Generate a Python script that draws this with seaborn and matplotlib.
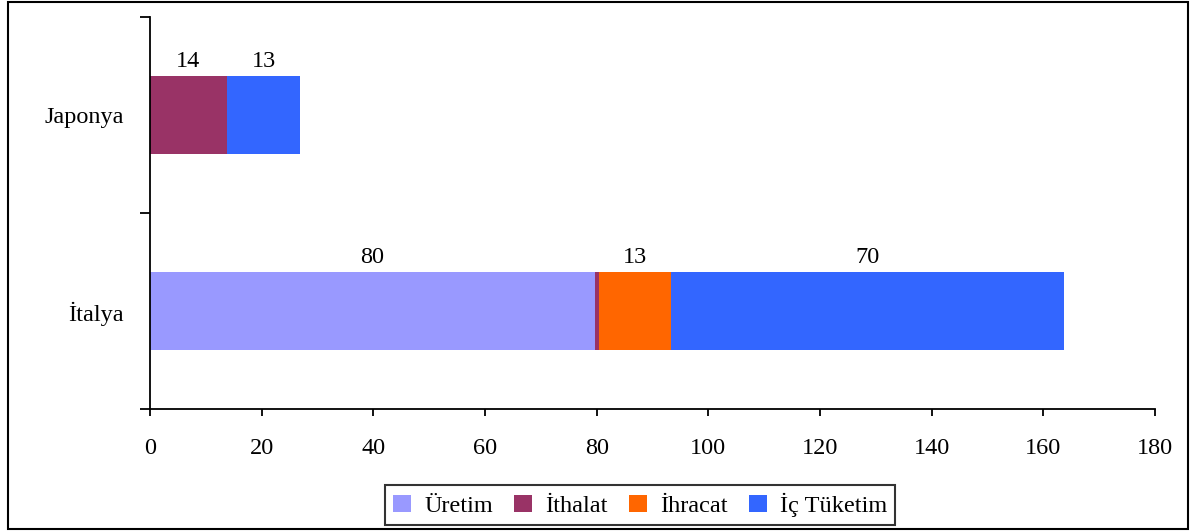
import numpy as np
import pandas as pd
import matplotlib.pyplot as plt
import seaborn as sns
from matplotlib.patches import Rectangle

# Data
countries = ["Japonya", "İtalya"]
series = ["Üretim", "İthalat", "İhracat", "İç Tüketim"]
uretim = [0, 79.7]
ithalat = [13.8, 0.7]
ihracat = [0, 12.9]
ic_tuketim = [13.1, 70.4]
colors = ["#9999FF", "#993366", "#FF6600", "#3366FF"]
x_ticks = list(range(0, 181, 20))

FS = 17.5

sns.set_theme(style="ticks")
plt.rcParams["font.family"] = ["Liberation Serif", "DejaVu Serif"]
plt.rcParams["text.color"] = "black"

df = pd.DataFrame({
    "Ülke": countries,
    "Üretim": uretim,
    "İthalat": ithalat,
    "İhracat": ihracat,
    "İç Tüketim": ic_tuketim,
})
cum = df[series].cumsum(axis=1)

fig, ax = plt.subplots(figsize=(11.9, 5.31), dpi=100)
fig.subplots_adjust(left=0.126, right=0.9706, top=0.968, bottom=0.2298)

# Stacked bars: draw cumulative totals from the widest down
for name, color in reversed(list(zip(series, colors))):
    sns.barplot(x=cum[name], y=df["Ülke"], orient="h", color=color,
                saturation=1, width=0.4, label=name, linewidth=0, ax=ax)

if ax.get_legend() is not None:
    ax.get_legend().remove()

# Value labels above each segment
for i in range(len(countries)):
    for name in series:
        v = df.loc[i, name]
        if v < 1:
            continue
        xc = cum.loc[i, name] - v / 2
        ax.annotate(f"{v:.0f}", (xc, i - 0.2), xytext=(0, 6),
                    textcoords="offset points", ha="center", va="baseline",
                    fontsize=FS, color="black")

ax.set_xlim(0, 180)
ax.set_ylim(1.5, -0.5)
ax.set_xticks(x_ticks)
ax.set_yticks([-0.5, 0.5, 1.5])
ax.set_yticklabels([])
ax.set_yticks([0, 1], minor=True)
ax.set_yticklabels(countries, minor=True)
ax.set_xlabel("")
ax.set_ylabel("")

ax.tick_params(axis="y", which="major", direction="out", length=7, width=1.3,
               left=True, color="black")
ax.tick_params(axis="y", which="minor", length=0, pad=19, labelsize=FS,
               labelcolor="black")
ax.tick_params(axis="x", direction="out", length=5, width=1.3, pad=16,
               labelsize=FS, bottom=True, color="black", labelcolor="black")

sns.despine(ax=ax)
for side in ["left", "bottom"]:
    ax.spines[side].set_color("black")
    ax.spines[side].set_linewidth(1.3)

# Legend in series order
h, l = ax.get_legend_handles_labels()
lookup = dict(zip(l, h))
leg = fig.legend([lookup[s] for s in series], series, loc="center",
                 bbox_to_anchor=(0.538, 0.049), ncol=4, frameon=True,
                 fancybox=False, edgecolor="black", fontsize=FS,
                 labelcolor="black",
                 handlelength=0.75, handleheight=0.75, handletextpad=0.55,
                 columnspacing=0.85, borderpad=0.32, borderaxespad=0)
leg.get_frame().set_linewidth(1.5)

# Outer frame around the chart
fig.patches.append(Rectangle((8 / 1190, 2 / 531), 1180 / 1190, 527 / 531,
                             transform=fig.transFigure, fill=False,
                             edgecolor="black", linewidth=1.5))

fig.savefig("out.png", dpi=100)
